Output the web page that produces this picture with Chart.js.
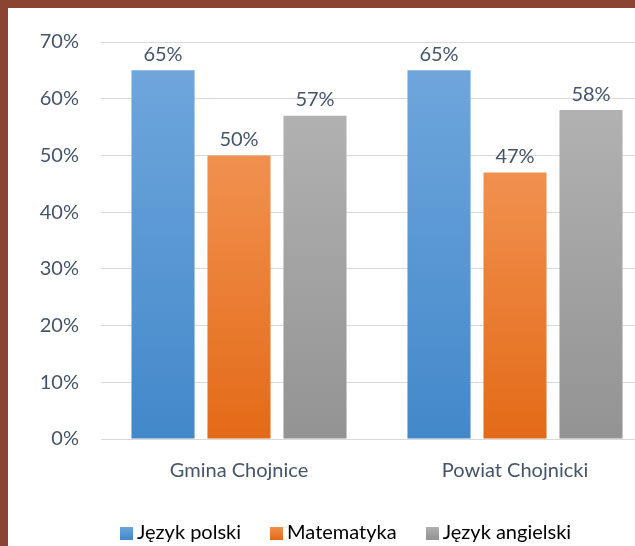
<!DOCTYPE html>
<html>
<head>
<meta charset="utf-8">
<script src="https://cdn.jsdelivr.net/npm/chart.js@4/dist/chart.umd.min.js"></script>
<style>
html,body{margin:0;padding:0;background:#fff;overflow:hidden;width:635px;height:546px;}
#frame{position:absolute;left:0;top:0;width:635px;height:546px;overflow:hidden;background:#8B4332;}
#inner{position:absolute;left:8px;top:8px;width:700px;height:538px;background:#fff;}
#c{position:absolute;left:0;top:0;}
</style>
</head>
<body>
<div id="frame"><div id="inner"><canvas id="c" width="674" height="538"></canvas></div></div>
<script>
const categories = ['Gmina Chojnice', 'Powiat Chojnicki'];
const seriesNames = ['Język polski', 'Matematyka', 'Język angielski'];
const jezykPolski = [65, 65];
const matematyka = [50, 47];
const jezykAngielski = [57, 58];
const yTicks = [0, 10, 20, 30, 40, 50, 60, 70];

const TEXT = '#44546A';
const FONT = 'Lato, "Open Sans", sans-serif';
const gradStops = [
  ['#6EA6DC', '#4388CA'],
  ['#F1914F', '#E36A17'],
  ['#B1B1B1', '#939393']
];

function barGradient(ctx, idx) {
  const chart = ctx.chart;
  const y = chart.scales && chart.scales.y;
  if (!chart.chartArea || !y || ctx.type !== 'data') return gradStops[idx][1];
  const top = y.getPixelForValue(ctx.raw);
  const bot = y.getPixelForValue(0);
  const g = chart.ctx.createLinearGradient(0, top, 0, bot);
  g.addColorStop(0, gradStops[idx][0]);
  g.addColorStop(1, gradStops[idx][1]);
  return g;
}

const valueLabels = {
  id: 'valueLabels',
  afterDatasetsDraw(chart) {
    const c = chart.ctx;
    c.save();
    c.font = '20px ' + FONT;
    c.fillStyle = TEXT;
    c.textAlign = 'center';
    c.textBaseline = 'bottom';
    chart.data.datasets.forEach((ds, i) => {
      chart.getDatasetMeta(i).data.forEach((bar, j) => {
        c.fillText(ds.data[j] + '%', bar.x, bar.y - 6);
      });
    });
    c.restore();
  }
};

// shift the legend block to the right, as in the original layout
const legendShift = {
  id: 'legendShift',
  afterLayout(chart) {
    if (chart.legend) {
      chart.legend.left += 18;
      chart.legend.right += 18;
    }
  }
};

const legendSwatch = (idx) => {
  const cv = document.createElement('canvas');
  cv.width = 13; cv.height = 13;
  const x = cv.getContext('2d');
  const g = x.createLinearGradient(0, 0, 0, 13);
  g.addColorStop(0, gradStops[idx][0]);
  g.addColorStop(1, gradStops[idx][1]);
  x.fillStyle = g;
  x.fillRect(0, 0, 13, 13);
  return cv;
};

const data = {
  labels: categories,
  datasets: [jezykPolski, matematyka, jezykAngielski].map((vals, i) => ({
    label: seriesNames[i],
    data: vals,
    backgroundColor: (ctx) => barGradient(ctx, i),
    borderWidth: 0,
    barPercentage: 0.83,
    categoryPercentage: 0.826
  }))
};

new Chart(document.getElementById('c'), {
  type: 'bar',
  data,
  options: {
    responsive: false,
    animation: false,
    devicePixelRatio: 1,
    layout: { padding: { top: 31, right: 29, left: 0, bottom: -7 } },
    plugins: {
      tooltip: { enabled: false },
      legend: {
        position: 'bottom',
        labels: {
          color: TEXT,
          font: { family: FONT, size: 20 },
          boxWidth: 1,
          boxHeight: 13,
          padding: 35,
          usePointStyle: true,
          generateLabels: (chart) => seriesNames.map((n, i) => ({
            text: n,
            pointStyle: legendSwatch(i),
            fillStyle: gradStops[i][1],
            strokeStyle: gradStops[i][1],
            lineWidth: 0,
            datasetIndex: i,
            hidden: false
          }))
        }
      }
    },
    scales: {
      x: {
        grid: { display: false, drawTicks: false },
        border: { display: true, color: '#D9D9D9', width: 1 },
        ticks: { color: TEXT, font: { family: FONT, size: 20 }, padding: 20 },
        afterFit: (s) => { s.height = 49; }
      },
      y: {
        min: 0,
        max: 70,
        afterBuildTicks: (s) => { s.ticks = yTicks.map(v => ({ value: v })); },
        grid: { color: '#D9D9D9', lineWidth: 1, drawTicks: false },
        border: { display: false },
        ticks: {
          color: TEXT,
          font: { family: FONT, size: 20 },
          padding: 22,
          callback: (v) => v + '%'
        },
        afterFit: (s) => { s.width = 93; }
      }
    }
  },
  plugins: [valueLabels, legendShift]
});
</script>
</body>
</html>
